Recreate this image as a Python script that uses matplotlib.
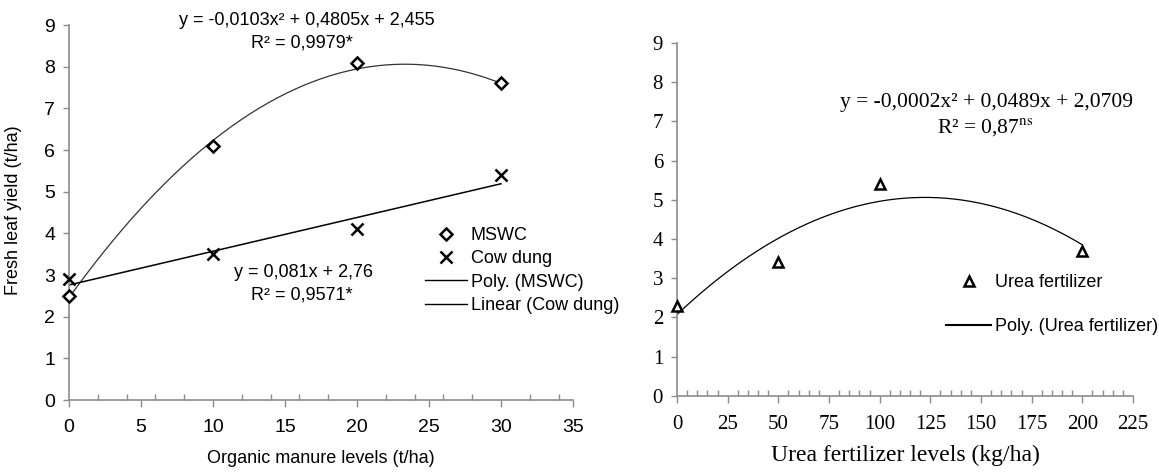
import numpy as np
import matplotlib
matplotlib.use("Agg")
from matplotlib import pyplot as plt
from matplotlib.lines import Line2D
from matplotlib.ticker import MultipleLocator

plt.rcParams['mathtext.fontset'] = 'stix'

# organic manure trial (t/ha)
manure_levels = [0, 10, 20, 30]
mswc_yield = [2.5, 6.1, 8.1, 7.6]
cow_dung_yield = [2.9, 3.5, 4.1, 5.4]
mswc_fit = [-0.0103, 0.4805, 2.455]
cow_dung_fit = [0.081, 2.76]

# urea trial (kg/ha)
urea_levels = [0, 50, 100, 200]
urea_yield = [2.3, 3.4, 5.4, 3.7]
urea_fit = [-0.0002, 0.0489, 2.0709]

W, H = 1159, 473
sans = 'Liberation Sans'
serif = 'Liberation Serif'
grey = '#8c8c8c'


def fx(px):
    return px / W


def fy(py):
    return 1 - py / H


fig = plt.figure(figsize=(W / 100, H / 100), dpi=100)
ax1 = fig.add_axes([fx(69), fy(400), fx(573 - 69), (400 - 25) / H])
ax2 = fig.add_axes([fx(677), fy(395.7), fx(1133 - 677), (395.7 - 43) / H])

for ax in (ax1, ax2):
    for s in ('top', 'right'):
        ax.spines[s].set_visible(False)
    for s in ('left', 'bottom'):
        ax.spines[s].set_color(grey)
        ax.spines[s].set_linewidth(1.2)
    ax.set_ylim(0, 9)
    ax.yaxis.set_major_locator(MultipleLocator(1))
    ax.tick_params(axis='y', which='major', length=4, width=1, color=grey, pad=6)
    ax.tick_params(axis='x', which='major', direction='out', length=5, width=1, color=grey, pad=9)
    ax.tick_params(axis='x', which='minor', direction='in', length=4, width=1, color=grey)

# ---- left: organic manure
xs = np.linspace(0, 30, 200)
ax1.plot(xs, np.polyval(mswc_fit, xs), color='#333333', lw=0.9)
ax1.plot(xs, np.polyval(cow_dung_fit, xs), color='black', lw=1.1)
ax1.plot(manure_levels, mswc_yield, ls='none', marker='D', ms=6, mfc='white', mec='black', mew=1.8, clip_on=False, zorder=3)
ax1.plot(manure_levels, cow_dung_yield, ls='none', marker='x', ms=8, mec='black', mew=1.8, clip_on=False, zorder=3)
ax1.set_xlim(0, 35)
ax1.xaxis.set_major_locator(MultipleLocator(5))
ax1.xaxis.set_minor_locator(MultipleLocator(2))
for lab in ax1.get_xticklabels() + ax1.get_yticklabels():
    lab.set_fontfamily(sans)
    lab.set_fontsize(14)
ax1.set_xlabel('Organic manure levels (t/ha)', fontfamily=sans, fontsize=13)
ax1.xaxis.set_label_coords(0.5, -0.133)
ax1.set_ylabel('Fresh leaf yield (t/ha)', fontfamily=sans, fontsize=13)
ax1.yaxis.set_label_coords(-0.093, 0.507)

ax1.text(16.5, 9.12, 'y = -0,0103x² + 0,4805x + 2,455', ha='center', va='center', fontfamily=sans, fontsize=13)
ax1.text(16.2, 8.57, 'R² = 0,9979*', ha='center', va='center', fontfamily=sans, fontsize=13)
ax1.text(16.25, 3.07, 'y = 0,081x + 2,76', ha='center', va='center', fontfamily=sans, fontsize=13)
ax1.text(16.2, 2.52, 'R² = 0,9571*', ha='center', va='center', fontfamily=sans, fontsize=13)

h1 = [Line2D([], [], ls='none', marker='D', ms=6, mfc='white', mec='black', mew=1.8),
      Line2D([], [], ls='none', marker='x', ms=8, mec='black', mew=1.8),
      Line2D([], [], color='black', lw=1),
      Line2D([], [], color='black', lw=1)]
ax1.legend(h1, ['MSWC', 'Cow dung', 'Poly. (MSWC)', 'Linear (Cow dung)'],
           loc='upper left', bbox_to_anchor=(fx(425), fy(227)), bbox_transform=fig.transFigure,
           frameon=False, borderpad=0, borderaxespad=0, handlelength=2.33, handletextpad=0.2,
           labelspacing=0.35, prop={'family': sans, 'size': 13})

# ---- right: urea
xu = np.linspace(0, 200, 200)
ax2.plot(xu, np.polyval(urea_fit, xu), color='black', lw=0.9)
ax2.plot(urea_levels, urea_yield, ls='none', marker='^', ms=7, mfc='white', mec='black', mew=1.8, clip_on=False, zorder=3)
ax2.set_xlim(0, 225)
ax2.xaxis.set_major_locator(MultipleLocator(25))
ax2.xaxis.set_minor_locator(MultipleLocator(5))
for lab in ax2.get_xticklabels() + ax2.get_yticklabels():
    lab.set_fontfamily(serif)
    lab.set_fontsize(15)
ax2.set_xlabel('Urea fertilizer levels (kg/ha)', fontfamily=serif, fontsize=17)
ax2.xaxis.set_label_coords(0.5, -0.14)

ax2.text(152.5, 7.47, 'y = -0,0002x² + 0,0489x + 2,0709', ha='center', va='center', fontfamily=serif, fontsize=15.5)
ax2.text(152, 6.86, r'R² = 0,87$^{\mathrm{ns}}$', ha='center', va='center', fontfamily=serif, fontsize=15.5)

h2 = [Line2D([], [], ls='none', marker='^', ms=7, mfc='white', mec='black', mew=1.8),
      Line2D([], [], color='black', lw=1.5)]
ax2.legend(h2, ['Urea fertilizer', 'Poly. (Urea fertilizer)'],
           loc='upper left', bbox_to_anchor=(fx(946), fy(274)), bbox_transform=fig.transFigure,
           frameon=False, borderpad=0, borderaxespad=0, handlelength=2.5, handletextpad=0.2,
           labelspacing=1.5, prop={'family': sans, 'size': 13})

fig.savefig('out.png', dpi=100)
